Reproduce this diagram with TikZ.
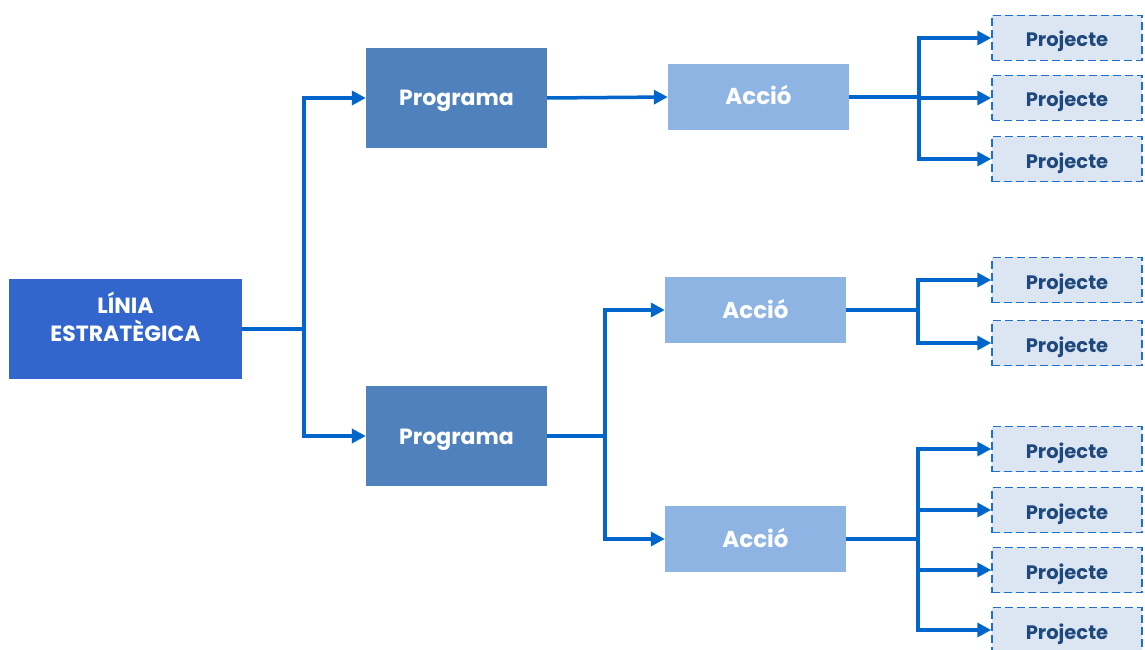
\documentclass[tikz,border=0pt]{standalone}
\usepackage{fontspec}
\setmainfont{Poppins}
\usetikzlibrary{arrows.meta}
\definecolor{lineblue}{HTML}{0066CC}
\definecolor{linia}{HTML}{3366CC}
\definecolor{prog}{HTML}{4F81BD}
\definecolor{accio}{HTML}{8EB4E3}
\definecolor{projfill}{HTML}{DCE6F2}
\definecolor{projtext}{HTML}{1F497D}
\definecolor{projdraw}{HTML}{1E6FD0}
\tikzset{
  box/.style={rectangle, inner sep=0pt, font=\bfseries, text=white},
  liniabox/.style={box, fill=linia, minimum width=233pt, minimum height=100pt},
  liniatext/.style={box, align=center, font=\bfseries\fontsize{22}{28}\selectfont},
  progbox/.style={box, fill=prog, minimum width=181pt, minimum height=100pt, font=\bfseries\fontsize{22}{26}\selectfont, text height=16pt, text depth=0pt},
  acciobox/.style={box, fill=accio, minimum width=181pt, minimum height=66pt, font=\bfseries\fontsize{23}{26}\selectfont, text height=16pt, text depth=0pt},
  projbox/.style={box, fill=projfill, draw=projdraw, dashed, dash pattern=on 8pt off 4pt, line width=1.5pt, text=projtext, minimum width=150pt, minimum height=45pt, font=\bfseries\fontsize{19.5}{22}\selectfont, text height=18pt, text depth=0pt},
  conn/.style={draw=lineblue, line width=3.5pt},
  arr/.style={conn, -{Triangle[length=14pt,width=14pt]}},
}
\begin{document}
\begin{tikzpicture}[x=1pt,y=-1pt]
\useasboundingbox (0,0) rectangle (1145,650);
\node[liniabox] (L) at (125.5,329) {};
\node[liniatext] (Ltext) at (125.5,317) {LÍNIA\\ESTRATÈGICA};
\node[progbox] (P1) at (456.5,98) {Programa};
\node[progbox] (P2) at (456.5,436) {Programa};
\node[acciobox] (A1) at (758.5,97) {Acció};
\node[acciobox] (A2) at (755.5,310) {Acció};
\node[acciobox] (A3) at (755.5,539) {Acció};
\node[projbox] (R1) at (1067,38) {Projecte};
\node[projbox] (R2) at (1067,98) {Projecte};
\node[projbox] (R3) at (1067,159) {Projecte};
\node[projbox] (R4) at (1067,280) {Projecte};
\node[projbox] (R5) at (1067,343) {Projecte};
\node[projbox] (R6) at (1067,449) {Projecte};
\node[projbox] (R7) at (1067,510) {Projecte};
\node[projbox] (R8) at (1067,570) {Projecte};
\node[projbox] (R9) at (1067,630) {Projecte};
% level 1
\coordinate (j0) at (304,329);
\draw[conn] (L.east) -- (j0);
\draw[arr] (j0) |- (P1.west);
\draw[arr] (j0) |- (P2.west);
% level 2
\draw[arr] (P1.east) -- (A1.west);
\coordinate (j2) at (605,436);
\draw[conn] (P2.east) -- (j2);
\draw[arr] (j2) |- (A2.west);
\draw[arr] (j2) |- (A3.west);
% level 3
\coordinate (k1) at (919,97);
\draw[conn] (A1.east) -- (k1);
\draw[arr] (k1) |- (R1.west);
\draw[arr] (k1) |- (R2.west);
\draw[arr] (k1) |- (R3.west);
\coordinate (k2) at (918,310);
\draw[conn] (A2.east) -- (k2);
\draw[arr] (k2) |- (R4.west);
\draw[arr] (k2) |- (R5.west);
\coordinate (k3) at (918,539);
\draw[conn] (A3.east) -- (k3);
\draw[arr] (k3) |- (R6.west);
\draw[arr] (k3) |- (R7.west);
\draw[arr] (k3) |- (R8.west);
\draw[arr] (k3) |- (R9.west);
\end{tikzpicture}
\end{document}
